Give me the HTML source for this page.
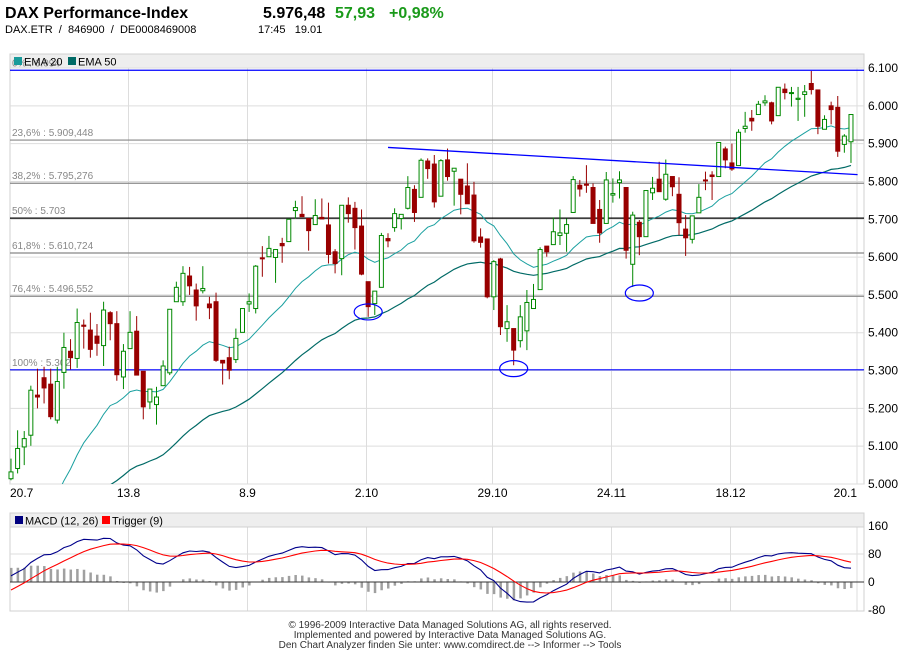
<!DOCTYPE html>
<html><head><meta charset="utf-8">
<style>
body{margin:0;background:#fff;font-family:"Liberation Sans",sans-serif;}
#wrap{position:relative;width:900px;height:650px;overflow:hidden;}
.t{position:absolute;white-space:nowrap;}
</style></head>
<body>
<div id="wrap">
<div class="t" style="left:5px;top:5px;font-size:16px;font-weight:bold;">DAX Performance-Index</div>
<div class="t" style="left:263px;top:5px;font-size:16px;font-weight:bold;">5.976,48</div>
<div class="t" style="left:335px;top:5px;font-size:16px;font-weight:bold;color:#1a9a1a;">57,93</div>
<div class="t" style="left:389px;top:5px;font-size:16px;font-weight:bold;color:#1a9a1a;">+0,98%</div>
<div class="t" style="left:5px;top:24px;font-size:11px;">DAX.ETR &nbsp;/ &nbsp;846900 &nbsp;/ &nbsp;DE0008469008</div>
<div class="t" style="left:258px;top:24px;font-size:11px;">17:45 &nbsp;&nbsp;19.01</div>
<svg id="svg" width="900" height="650" style="position:absolute;left:0;top:0">
<defs><clipPath id="cm"><rect x="10" y="68" width="854" height="416"/></clipPath><clipPath id="cd"><rect x="10" y="527" width="854" height="84"/></clipPath></defs>
</svg>
</div>
<script>
const opens=[5014,5041,5098,5129,5235,5281,5264,5169,5295,5351,5332,5420,5407,5391,5366,5453,5424,5283,5358,5404,5298,5217,5210,5260,5294,5482,5482,5550,5513,5511,5476,5482,5327,5334,5329,5401,5476,
5464,5598,5601,5599,5636,5641,5723,5713,5702,5686,5705,5685,5614,5596,5737,5729,5682,5535,5477,5520,5649,5678,5702,5729,5779,5758,5854,5846,5761,5857,5827,5806,5788,5764,5653,5648,
5495,5595,5411,5411,5379,5405,5464,5514,5629,5633,5657,5663,5718,5790,5793,5784,5726,5689,5764,5797,5784,5581,5692,5654,5770,5806,5753,5813,5766,5674,5647,5717,5804,5817,5813,5886,
5849,5842,5940,5967,5977,6008,6008,5974,6044,6033,6017,6030,6059,6042,5938,6000,5996,5898,5905];
const highs=[5067,5142,5140,5260,5305,5310,5305,5310,5400,5383,5464,5435,5453,5423,5482,5457,5457,5370,5457,5444,5298,5251,5257,5327,5462,5535,5576,5574,5530,5576,5495,5506,5327,5363,5411,5464,5504,
5579,5629,5656,5620,5651,5700,5749,5761,5702,5753,5755,5744,5621,5737,5758,5746,5726,5535,5510,5664,5663,5729,5713,5814,5790,5861,5861,5870,5859,5887,5835,5806,5848,5799,5676,5648,
5592,5598,5473,5411,5473,5513,5529,5626,5629,5705,5726,5702,5814,5804,5843,5795,5751,5825,5808,5827,5784,5720,5698,5776,5812,5852,5858,5813,5811,5711,5709,5793,5826,5827,5903,5892,
5900,5938,5984,5989,6013,6028,6011,6049,6059,6050,6050,6055,6092,6042,5975,6011,6026,5925,5977];
const lows=[5010,5028,5050,5101,5200,5213,5171,5160,5252,5303,5307,5358,5334,5339,5312,5380,5273,5251,5358,5288,5171,5198,5157,5260,5288,5482,5471,5500,5432,5504,5436,5323,5263,5277,5320,5401,5455,
5451,5548,5601,5532,5585,5641,5702,5707,5617,5686,5701,5583,5557,5552,5691,5620,5552,5442,5447,5520,5626,5667,5673,5726,5693,5758,5807,5731,5761,5802,5736,5713,5741,5638,5625,5491,
5460,5394,5376,5314,5361,5354,5464,5514,5601,5633,5632,5614,5718,5760,5770,5689,5638,5689,5744,5755,5596,5521,5605,5654,5751,5773,5749,5761,5658,5603,5636,5717,5777,5751,5813,5835,
5828,5842,5929,5934,5977,6000,5951,5974,6017,5998,5960,5971,6030,5925,5938,5951,5865,5876,5849];
const closes=[5032,5094,5120,5248,5230,5254,5178,5271,5361,5334,5427,5417,5356,5372,5460,5424,5289,5351,5401,5288,5204,5251,5230,5312,5462,5520,5557,5524,5471,5517,5466,5327,5320,5301,5385,5464,5482,
5576,5596,5623,5620,5630,5700,5731,5707,5670,5710,5701,5607,5583,5737,5715,5678,5555,5469,5510,5657,5643,5715,5713,5784,5718,5856,5834,5746,5855,5813,5835,5766,5741,5643,5639,5495,
5588,5416,5429,5354,5442,5480,5488,5620,5614,5667,5664,5686,5805,5780,5790,5689,5664,5804,5768,5804,5618,5711,5654,5776,5782,5773,5819,5786,5691,5651,5709,5758,5802,5813,5903,5857,
5833,5930,5946,5960,6004,6013,5960,6049,6035,6035,6020,6037,6043,5946,5964,5990,5880,5920,5977];
const emaSeeds=[4700,4720];
const macdSeeds=[4930,4920,-33];
const priceTicks=[5000,5100,5200,5300,5400,5500,5600,5700,5800,5900,6000,6100];
const priceTickLabels=["5.000","5.100","5.200","5.300","5.400","5.500","5.600","5.700","5.800","5.900","6.000","6.100"];
const fibValues=[6094,5909.448,5795.276,5703,5610.724,5496.552,5302];
const fibLabels=["0% : 6.094","23,6% : 5.909,448","38,2% : 5.795,276","50% : 5.703","61,8% : 5.610,724","76,4% : 5.496,552","100% : 5.302"];
const dateIdx=[0,18,36,54,73,91,109,127];
const dateLabels=["20.7","13.8","8.9","2.10","29.10","24.11","18.12","20.1"];
const macdTicks=[160,80,0,-80];
const trendPts=[[57,5890],[128,5818]];
const circleIdx=[[54,5455],[76,5305],[95,5505]];

const S=document.getElementById('svg');const NS='http://www.w3.org/2000/svg';
function mk(tag,a){const e=document.createElementNS(NS,tag);for(const k in a)e.setAttribute(k,a[k]);S.appendChild(e);return e;}
const L=10,R=864,PT=68,PB=484;
function X(i){return 11+i*6.614;}
function Y(p){return PT+(6100-p)*(PB-PT)/1100;}
const MT=527,MB=611;
function MY(v){return 582-v*28/80;}

let e=mk('rect',{x:L,y:54,width:R-L,height:14,fill:'#eeeeee',stroke:'#d0d0d0'});

e=mk('rect',{x:L,y:PT,width:R-L,height:PB-PT,fill:'#fff',stroke:'#d0d0d0'});

priceTicks.forEach((p,i)=>{
 const g=mk('line',{x1:L,x2:R,y1:Y(p),y2:Y(p),stroke:'#dddddd'});
 
 const t=mk('text',{x:868,y:Y(p)+4,'font-size':12,fill:'#000'});t.textContent=priceTickLabels[i];
 
});
dateIdx.forEach((d,i)=>{
 const gx=i==0?L:(i==dateIdx.length-1?857:Math.round(X(d))-1.5);
 if(i>0){const g=mk('line',{x1:gx,x2:gx,y1:PT,y2:PB,stroke:'#dddddd'});
 
 const g2=mk('line',{x1:gx,x2:gx,y1:MT,y2:MB,stroke:'#dddddd'});
 }
 const t=mk('text',{x:i==0?10:(i==dateIdx.length-1?857:gx),y:497,'font-size':12,'text-anchor':i==0?'start':(i==dateIdx.length-1?'end':'middle')});
 t.textContent=dateLabels[i];
 
});
fibValues.forEach((f,i)=>{
 const col=(i==0||i==6)?'#0000ff':(i==3?'#000':'#888');
 const t=mk('text',{x:12,y:Y(f)-4,'font-size':10,fill:'#888'});t.textContent=fibLabels[i];
 
 const g=mk('line',{x1:L,x2:R,y1:Y(f),y2:Y(f),stroke:col,'stroke-width':1.2});
 
});
function ema(arr,n,seed){const a=2/(n+1);let v=seed;return arr.map(c=>v=v+a*(c-v));}
const e20=ema(closes,20,emaSeeds[0]),e50=ema(closes,50,emaSeeds[1]);
function path(vals,fy){return vals.map((v,i)=>(i?'L':'M')+X(i).toFixed(1)+' '+fy(v).toFixed(1)).join(' ');}
e=mk('path',{d:path(e20,Y),fill:'none',stroke:'#1aa0a0','stroke-width':1,'clip-path':'url(#cm)'});

e=mk('path',{d:path(e50,Y),fill:'none',stroke:'#006a66','stroke-width':1.2,'clip-path':'url(#cm)'});

closes.forEach((c,i)=>{
 const o=opens[i],up=c>=o,x=X(i),col=up?'#008800':'#990000';
 const w=mk('line',{x1:x,x2:x,y1:Y(highs[i]),y2:Y(lows[i]),stroke:col});
 
 const top=Y(Math.max(o,c)),h=Math.max(1,Math.abs(Y(o)-Y(c)));
 const b=mk('rect',{x:x-2,y:top,width:4,height:h,fill:up?'#fff':col,stroke:col,'stroke-width':1});
 
});
e=mk('line',{x1:X(trendPts[0][0]),y1:Y(trendPts[0][1]),x2:X(trendPts[1][0]),y2:Y(trendPts[1][1]),stroke:'#0000ff','stroke-width':1.3});

circleIdx.forEach(ci=>{
 const c=mk('ellipse',{cx:X(ci[0]),cy:Y(ci[1]),rx:14,ry:8,fill:'none',stroke:'#0000ff','stroke-width':1.2});
 
});
[['#1a9a9a','EMA 20',13],['#006a66','EMA 50',67]].forEach(l=>{
 const r=mk('rect',{x:l[2]+1,y:57,width:8,height:8,fill:l[0]});
 
 const t=mk('text',{x:l[2]+11,y:65.5,'font-size':11});t.textContent=l[1];
 
});
e=mk('rect',{x:L,y:513,width:R-L,height:14,fill:'#eeeeee',stroke:'#d0d0d0'});

e=mk('rect',{x:L,y:MT,width:R-L,height:MB-MT,fill:'none',stroke:'#d0d0d0'});

[80].forEach(v=>{const g=mk('line',{x1:L,x2:R,y1:MY(v),y2:MY(v),stroke:'#dddddd'});
 });
macdTicks.forEach(v=>{const t=mk('text',{x:868,y:MY(v)+4,'font-size':12});t.textContent=String(v);
 });
const e12=ema(closes,12,macdSeeds[0]),e26=ema(closes,26,macdSeeds[1]);
const macd=e12.map((v,i)=>v-e26[i]);
const trig=ema(macd,9,macdSeeds[2]);
macd.forEach((m,i)=>{const h=m-trig[i];
 const b=mk('rect',{x:X(i)-1,y:Math.min(MY(0),MY(h)),width:2.5,height:Math.abs(MY(h)-MY(0)),fill:'#a0a0a0','clip-path':'url(#cd)'});
 });
e=mk('line',{x1:L,x2:R,y1:MY(0),y2:MY(0),stroke:'#333'});

e=mk('path',{d:path(macd,MY),fill:'none',stroke:'#00008b','stroke-width':1.1,'clip-path':'url(#cd)'});

e=mk('path',{d:path(trig,MY),fill:'none',stroke:'#ff0000','stroke-width':1.1,'clip-path':'url(#cd)'});

[['#000080','MACD (12, 26)',13],['#ff0000','Trigger (9)',100]].forEach(l=>{
 const r=mk('rect',{x:l[2]+2,y:516,width:8,height:8,fill:l[0]});
 
 const t=mk('text',{x:l[2]+12,y:524.5,'font-size':11});t.textContent=l[1];
 
});
["© 1996-2009 Interactive Data Managed Solutions AG, all rights reserved.","Implemented and powered by Interactive Data Managed Solutions AG.","Den Chart Analyzer finden Sie unter: www.comdirect.de --> Informer --> Tools"].forEach((s,i)=>{
 const t=mk('text',{x:450,y:628+i*10,'font-size':10,'text-anchor':'middle',fill:'#333'});t.textContent=s;
 
});
</script>
</body></html>
